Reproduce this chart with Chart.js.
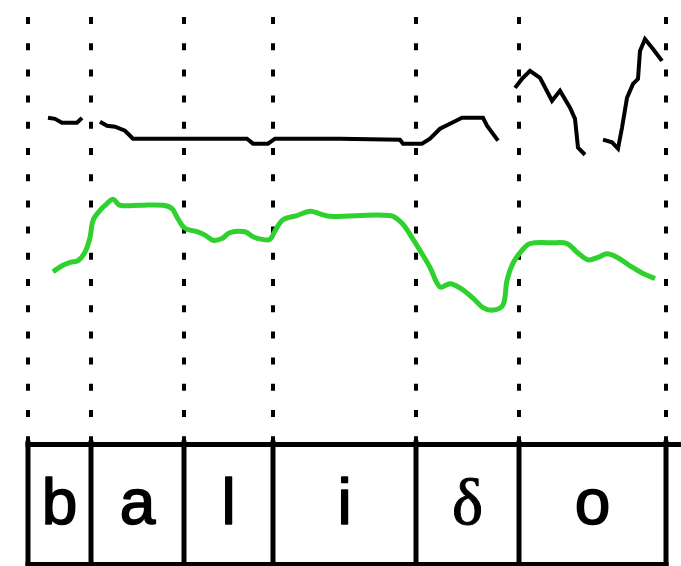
<!DOCTYPE html>
<html>
<head>
<meta charset="utf-8">
<title>balido – pitch and intensity</title>
<script src="https://cdn.jsdelivr.net/npm/chart.js@4/dist/chart.umd.min.js"></script>
<style>
  html, body { margin: 0; padding: 0; background: #fff; }
  #wrap { width: 681px; height: 566px; }
</style>
</head>
<body>
<div id="wrap"><canvas id="c" width="681" height="566"></canvas></div>
<script>
// Segment boundaries (ms) and the phone in each interval
const boundaries = [0, 63, 156, 245, 388, 491, 638];
const segments = ['b', 'a', 'l', 'i', 'δ', 'o'];

// F0 track (ms, Hz); null marks unvoiced gaps
const pitchTime = [20, 27, 34, 42, 49, 54, null,
  72, 79, 87, 97, 105, 152, 219, 225, 240, 247, 312, 372, 375, 394, 402, 412, 424, 434, 455, 459, 470, null,
  487, 494, 502, 512, 524, 532, 542, 547, 550, 557, null,
  575, 584, 590, 594, 599, 605, 610, 612, 617, 625, 634];
const pitchHz = [229.0, 228.3, 225.5, 225.5, 225.5, 229.0, null,
  226.2, 223.4, 222.7, 219.9, 214.3, 214.3, 214.3, 210.8, 210.8, 214.3, 214.3, 213.6, 210.8, 210.8, 214.3, 221.3, 225.5, 229.0, 229.0, 223.4, 212.9, null,
  250.1, 256.4, 262.1, 257.1, 241.0, 248.0, 236.1, 228.3, 208.0, 203.0, null,
  213.6, 211.7, 207.3, 222.0, 243.1, 252.9, 256.4, 276.1, 284.5, 277.5, 269.1];

// Intensity track (ms, dB)
const intensityTime = [25, 34, 42, 50, 57, 62, 65, 72, 79, 85, 92, 112, 135, 144, 150, 157, 169, 177, 185, 194, 202, 217, 225, 234, 242, 247, 255, 269, 282, 292, 302, 362, 374, 384, 392, 402, 412, 422, 432, 445, 455, 465, 475, 479, 485, 494, 502, 525, 539, 549, 560, 570, 579, 589, 602, 615, 627];
const intensityDb = [60.1, 60.8, 61.2, 61.4, 62.4, 64.1, 66.1, 67.3, 68.1, 68.6, 67.9, 67.9, 67.9, 67.5, 66.3, 65.2, 64.8, 64.4, 63.8, 64.0, 64.7, 64.8, 64.2, 63.9, 63.9, 64.9, 66.2, 66.7, 67.2, 66.9, 66.6, 66.7, 65.8, 64.1, 62.6, 60.6, 58.3, 58.7, 58.2, 57.0, 55.9, 55.6, 56.2, 59.1, 61.1, 62.6, 63.4, 63.5, 63.4, 62.4, 61.5, 61.8, 62.2, 61.8, 60.8, 59.9, 59.3];

// Unvoiced gaps become breaks in the F0 line
const pitchPoints = pitchTime.map((t, i) => (t === null ? { x: NaN, y: null } : { x: t, y: pitchHz[i] }));
const intensityPoints = intensityTime.map((t, i) => ({ x: t, y: intensityDb[i] }));

// Segment tier: boxed phone labels under the plot, aligned to the time axis
const tierPlugin = {
  id: 'segmentTier',
  afterDraw(chart) {
    const ctx = chart.ctx;
    const xs = chart.scales.x;
    const top = chart.chartArea.bottom + 1.5;
    const bottom = chart.height - 2;
    const px = boundaries.map(b => xs.getPixelForValue(b));
    ctx.save();
    ctx.strokeStyle = '#000';
    ctx.lineCap = 'butt';
    ctx.lineWidth = 5;
    ctx.beginPath();
    ctx.moveTo(px[0] - 2.5, top);
    ctx.lineTo(chart.width, top);
    ctx.stroke();
    ctx.lineWidth = 4;
    ctx.beginPath();
    ctx.moveTo(px[0] - 2.5, bottom);
    ctx.lineTo(px[px.length - 1] + 2.5, bottom);
    ctx.stroke();
    ctx.lineWidth = 5;
    px.forEach(x => {
      ctx.beginPath();
      ctx.moveTo(x, top - 4);
      ctx.lineTo(x, chart.height);
      ctx.stroke();
    });
    ctx.fillStyle = '#000';
    ctx.textAlign = 'center';
    ctx.textBaseline = 'alphabetic';
    ctx.lineJoin = 'round';
    segments.forEach((s, i) => {
      const cx = (px[i] + px[i + 1]) / 2;
      if (s === 'δ') {
        ctx.font = '66px "Liberation Serif"';
        ctx.lineWidth = 1;
      } else {
        ctx.font = '64px "Liberation Sans"';
        ctx.lineWidth = 1.6;
      }
      ctx.fillText(s, cx, 524);
      ctx.strokeText(s, cx, 524);
    });
    ctx.restore();
  }
};

new Chart(document.getElementById('c'), {
  type: 'line',
  data: {
    datasets: [
      {
        label: 'Intensity (dB)',
        data: intensityPoints,
        yAxisID: 'yInt',
        borderColor: '#2ed12e',
        borderWidth: 5,
        pointRadius: 0,
        tension: 0.35,
        fill: false
      },
      {
        label: 'F0 (Hz)',
        data: pitchPoints,
        yAxisID: 'yPitch',
        borderColor: '#000',
        borderWidth: 4,
        pointRadius: 0,
        tension: 0,
        spanGaps: false,
        fill: false
      }
    ]
  },
  options: {
    responsive: false,
    devicePixelRatio: 1,
    animation: false,
    layout: { padding: { top: 17, bottom: 123, left: 0, right: 0 } },
    plugins: { legend: { display: false }, tooltip: { enabled: false } },
    scales: {
      x: {
        type: 'linear',
        min: -28,
        max: 653,
        afterBuildTicks(axis) { axis.ticks = boundaries.map(v => ({ value: v })); },
        ticks: { display: false },
        grid: { color: '#000', lineWidth: 4, drawTicks: false },
        border: { display: false, dash: [7, 19.2] }
      },
      yPitch: {
        type: 'linear',
        position: 'left',
        min: 0,
        max: 300,
        display: false
      },
      yInt: {
        type: 'linear',
        position: 'right',
        min: 40,
        max: 90,
        display: false
      }
    }
  },
  plugins: [tierPlugin]
});
</script>
</body>
</html>
